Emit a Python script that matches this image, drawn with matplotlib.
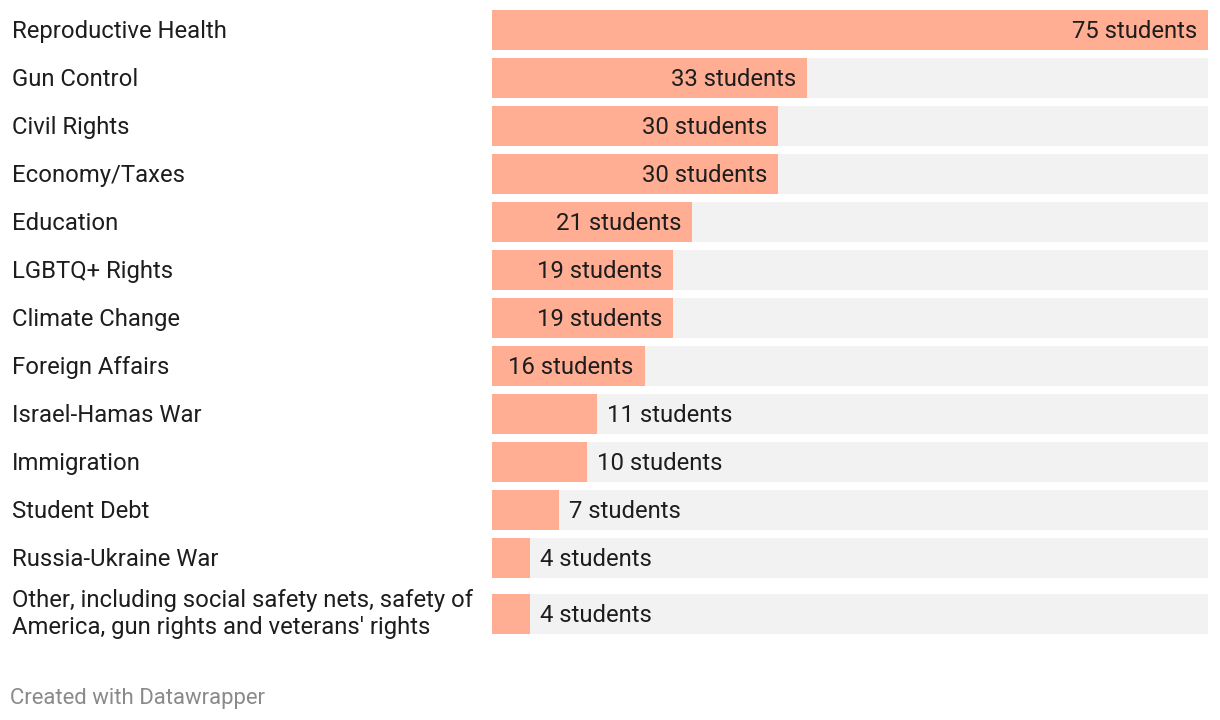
import matplotlib.pyplot as plt
from matplotlib.transforms import blended_transform_factory

plt.rcParams['font.family'] = ['Roboto', 'DejaVu Sans']

topics = ['Reproductive Health', 'Gun Control', 'Civil Rights', 'Economy/Taxes',
          'Education', 'LGBTQ+ Rights', 'Climate Change', 'Foreign Affairs',
          'Israel-Hamas War', 'Immigration', 'Student Debt', 'Russia-Ukraine War',
          "Other, including social safety nets, safety of\nAmerica, gun rights and veterans' rights"]
students = [75, 33, 30, 30, 21, 19, 19, 16, 11, 10, 7, 4, 4]
max_value = 75

bar_color = '#ffad93'
bg_color = '#f2f2f2'
text_color = '#1d1d1d'

fig = plt.figure(figsize=(12.2, 7.2), dpi=100)
# bar area in pixels: x 492..1208, y measured from top in pixels
ax = fig.add_axes([492 / 1220, 0, 716 / 1220, 1])
ax.set_xlim(0, max_value)
ax.set_ylim(720, 0)
ax.axis('off')

# row layout: single-line rows 48px, two-line rows 64px
centers = []
top = 6
for t in topics:
    h = 48 if '\n' not in t else 64
    centers.append(top + h / 2)
    top += h

lab_tr = blended_transform_factory(fig.transFigure, ax.transData)
for t, v, yc in zip(topics, students, centers):
    ax.barh(yc, max_value, height=40, color=bg_color, left=0)
    ax.barh(yc, v, height=40, color=bar_color, left=0)
    if '\n' in t:
        ax.text(12 / 1220, yc, t, transform=lab_tr, ha='left', va='center',
                fontsize=17.2, color=text_color, linespacing=1.26)
    else:
        ax.text(12 / 1220, yc - 1, t, transform=lab_tr, ha='left', va='center_baseline',
                fontsize=17.2, color=text_color)
    label = f'{v} students'
    if v >= 14:
        ax.annotate(label, (v, yc), xytext=(-11, 1), textcoords='offset pixels',
                    ha='right', va='center_baseline', fontsize=17.2, color=text_color)
    else:
        ax.annotate(label, (v, yc), xytext=(10, 1), textcoords='offset pixels',
                    ha='left', va='center_baseline', fontsize=17.2, color=text_color)

fig.text(10 / 1220, 1 - 696 / 720, 'Created with Datawrapper', ha='left', va='center_baseline',
         fontsize=15.9, color='#8a8a8a')

fig.savefig('out.png', dpi=100, facecolor='white')
